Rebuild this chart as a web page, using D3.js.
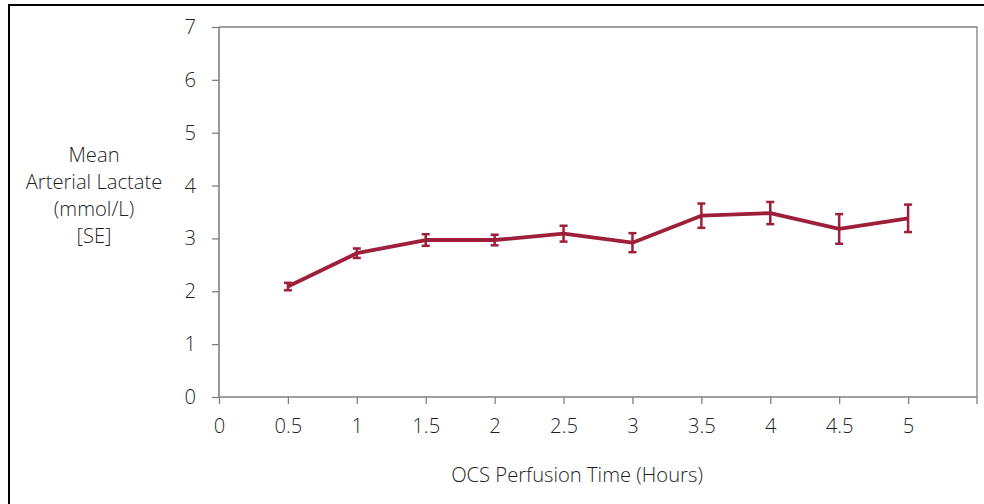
<!DOCTYPE html>
<html>
<head>
<meta charset="utf-8">
<script src="https://cdn.jsdelivr.net/npm/d3@7"></script>
<style>
  html, body { margin: 0; padding: 0; background: #fff; }
  svg { display: block; }
  text { font-family: "Open Sans", "Segoe UI", sans-serif; fill: #1f1f1f; font-weight: 350; }
</style>
</head>
<body>
<svg id="chart" width="984" height="504"></svg>
<script>
const hours = [0.5, 1, 1.5, 2, 2.5, 3, 3.5, 4, 4.5, 5];
const meanLactate = [2.09, 2.72, 2.97, 2.97, 3.09, 2.92, 3.43, 3.48, 3.18, 3.38];
const seLactate = [0.07, 0.09, 0.11, 0.10, 0.15, 0.18, 0.23, 0.21, 0.28, 0.26];
const xTicks = [0, 0.5, 1, 1.5, 2, 2.5, 3, 3.5, 4, 4.5, 5];
const yTicks = [0, 1, 2, 3, 4, 5, 6, 7];
const yTitleLines = ["Mean", "Arterial Lactate", "(mmol/L)", "[SE]"];
const xTitle = "OCS Perfusion Time (Hours)";

(function () {
const svg = d3.select("#chart");
const lineColor = "#9e1f3a";
const axisColor = "#808080";
const fs = 20.2;

svg.append("rect")
  .attr("x", 9).attr("y", 5).attr("width", 990).attr("height", 520)
  .attr("fill", "none").attr("stroke", "#000").attr("stroke-width", 2);

const pL = 219, pR = 977, pT = 27, pB = 397;
const x = d3.scaleLinear().domain([0, 5.5]).range([pL, pR]);
const y = d3.scaleLinear().domain([0, 7]).range([pB, pT]);

svg.append("path")
  .attr("d", `M${pL},${pT}H${pR}V${pB}`)
  .attr("fill", "none").attr("stroke", axisColor).attr("stroke-width", 1.3);

const xAxis = svg.append("g")
  .attr("transform", `translate(0,${pB})`)
  .call(d3.axisBottom(x).tickValues(xTicks).tickSize(7).tickPadding(15)
    .tickFormat(d => String(d)));
const yAxis = svg.append("g")
  .attr("transform", `translate(${pL},0)`)
  .call(d3.axisLeft(y).tickValues(yTicks).tickSize(7).tickPadding(16)
    .tickFormat(d => String(d)));

[xAxis, yAxis].forEach(g => {
  g.select(".domain").attr("stroke", axisColor).attr("stroke-width", 1.6);
  g.selectAll(".tick line").attr("stroke", axisColor).attr("stroke-width", 1.3);
  g.selectAll(".tick text")
    .attr("font-family", "'Open Sans', sans-serif")
    .attr("font-size", fs).attr("fill", "#1f1f1f");
});
xAxis.select(".domain").attr("d", `M${pL},0H${pR}`);
yAxis.select(".domain").attr("d", `M0,${pB}V${pT}`);
xAxis.append("line").attr("x1", pR).attr("x2", pR).attr("y1", 0).attr("y2", 7)
  .attr("stroke", axisColor).attr("stroke-width", 1.3);

const yt = svg.append("text")
  .attr("text-anchor", "middle")
  .attr("font-size", fs)
  .attr("font-family", "'Open Sans', sans-serif");
yTitleLines.forEach((t, i) => {
  yt.append("tspan").attr("x", 94).attr("y", 162 + i * 27).text(t);
});

svg.append("text")
  .attr("x", 577).attr("y", 482)
  .attr("text-anchor", "middle")
  .attr("font-size", fs)
  .attr("font-family", "'Open Sans', sans-serif")
  .text(xTitle);

const data = hours.map((h, i) => ({ h, m: meanLactate[i], se: seLactate[i] }));

svg.append("path")
  .datum(data)
  .attr("d", d3.line().x(d => x(d.h)).y(d => y(d.m)))
  .attr("fill", "none").attr("stroke", lineColor)
  .attr("stroke-width", 3.8).attr("stroke-linejoin", "round");

const eb = svg.append("g").attr("stroke", lineColor).attr("stroke-width", 2.5).attr("fill", "none");
data.forEach(d => {
  const xc = x(d.h), y1 = y(d.m + d.se), y2 = y(d.m - d.se);
  eb.append("line").attr("x1", xc).attr("x2", xc).attr("y1", y1).attr("y2", y2);
  eb.append("line").attr("x1", xc - 4).attr("x2", xc + 4).attr("y1", y1).attr("y2", y1);
  eb.append("line").attr("x1", xc - 4).attr("x2", xc + 4).attr("y1", y2).attr("y2", y2);
});
})();
</script>
</body>
</html>
